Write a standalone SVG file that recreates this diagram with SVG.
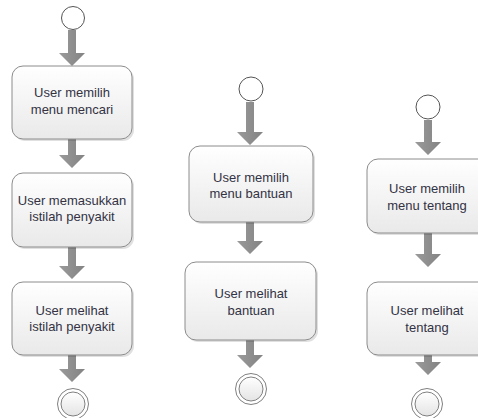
<svg xmlns="http://www.w3.org/2000/svg" width="478" height="418" viewBox="0 0 478 418">
<defs>
<linearGradient id="boxg" x1="0" y1="0" x2="0" y2="1">
<stop offset="0" stop-color="#ffffff"/>
<stop offset="1" stop-color="#e9e9e9"/>
</linearGradient>
<linearGradient id="endg" x1="0" y1="0" x2="0" y2="1">
<stop offset="0" stop-color="#ffffff"/>
<stop offset="1" stop-color="#e4e4e4"/>
</linearGradient>
<linearGradient id="arrg" x1="0" y1="0" x2="1" y2="0">
<stop offset="0" stop-color="#9a9a9a"/>
<stop offset="1" stop-color="#838383"/>
</linearGradient>
</defs>
<style>
.box{fill:url(#boxg);stroke:#8c8c8c;stroke-width:1}
.shadow{fill:#000;opacity:0.12}
.start{fill:#fff;stroke:#555;stroke-width:1}
.endo{fill:#fff;stroke:#808080;stroke-width:1}
.endi{fill:url(#endg);stroke:#808080;stroke-width:1}
.arr{fill:url(#arrg)}
text{font-family:"Liberation Sans",Arial,sans-serif;font-size:13px;fill:#333344;text-anchor:middle}
</style>
<rect width="478" height="418" fill="#fff"/>
<g id="connectors">
<path class="arr" d="M68 30H76V53H85L72 66L59 53H68Z"/>
<path class="arr" d="M68 139H76V155H85L72 168L59 155H68Z"/>
<path class="arr" d="M68 247H76V266H85L72 279L59 266H68Z"/>
<path class="arr" d="M68 355H76V369H85L72 382L59 369H68Z"/>
<path class="arr" d="M246 102H254V132H263L250 145L237 132H246Z"/>
<path class="arr" d="M246 222H254V241H263L250 254L237 241H246Z"/>
<path class="arr" d="M246 340H254V355H263L250 368L237 355H246Z"/>
<path class="arr" d="M424 120H432V142H441L428 155L415 142H424Z"/>
<path class="arr" d="M424 233H432V254H441L428 267L415 254H424Z"/>
<path class="arr" d="M424 355H432V362H441L428 375L415 362H424Z"/>
</g>
<g id="start1"><circle class="start" cx="73" cy="18" r="11.5"/></g>
<g id="node1">
<rect class="shadow" x="14" y="68" width="120" height="73" rx="11"/>
<rect class="box" x="12" y="66" width="120" height="73" rx="11"/>
<text x="72" y="97">User memilih</text>
<text x="72" y="114">menu mencari</text>
</g>
<g id="node2">
<rect class="shadow" x="14" y="175" width="120" height="74" rx="11"/>
<rect class="box" x="12" y="173" width="120" height="74" rx="11"/>
<text x="72" y="205">User memasukkan</text>
<text x="72" y="221">istilah penyakit</text>
</g>
<g id="node3">
<rect class="shadow" x="14" y="284" width="120" height="73" rx="11"/>
<rect class="box" x="12" y="282" width="120" height="73" rx="11"/>
<text x="72" y="315">User melihat</text>
<text x="72" y="331">istilah penyakit</text>
</g>
<g id="end1"><circle class="endo" cx="73" cy="404" r="15.5"/><circle class="endi" cx="73" cy="404" r="12"/></g>
<g id="start2"><circle class="start" cx="251" cy="89" r="12"/></g>
<g id="node4">
<rect class="shadow" x="191" y="148" width="124" height="76" rx="11"/>
<rect class="box" x="189" y="146" width="124" height="76" rx="11"/>
<text x="251" y="182">User memilih</text>
<text x="251" y="198">menu bantuan</text>
</g>
<g id="node5">
<rect class="shadow" x="187" y="264" width="131" height="78" rx="11"/>
<rect class="box" x="185" y="262" width="131" height="78" rx="11"/>
<text x="251" y="298">User melihat</text>
<text x="251" y="315">bantuan</text>
</g>
<g id="end2"><circle class="endo" cx="251" cy="389" r="15.5"/><circle class="endi" cx="251" cy="389" r="12"/></g>
<g id="start3"><circle class="start" cx="428" cy="107" r="12"/></g>
<g id="node6">
<rect class="shadow" x="369" y="161" width="124" height="74" rx="11"/>
<rect class="box" x="367" y="159" width="124" height="74" rx="11"/>
<text x="427" y="193">User memilih</text>
<text x="427" y="210">menu tentang</text>
</g>
<g id="node7">
<rect class="shadow" x="369" y="284" width="124" height="73" rx="11"/>
<rect class="box" x="367" y="282" width="124" height="73" rx="11"/>
<text x="427" y="315">User melihat</text>
<text x="427" y="332">tentang</text>
</g>
<g id="end3"><circle class="endo" cx="427" cy="404" r="15.5"/><circle class="endi" cx="427" cy="404" r="12"/></g>
</svg>
